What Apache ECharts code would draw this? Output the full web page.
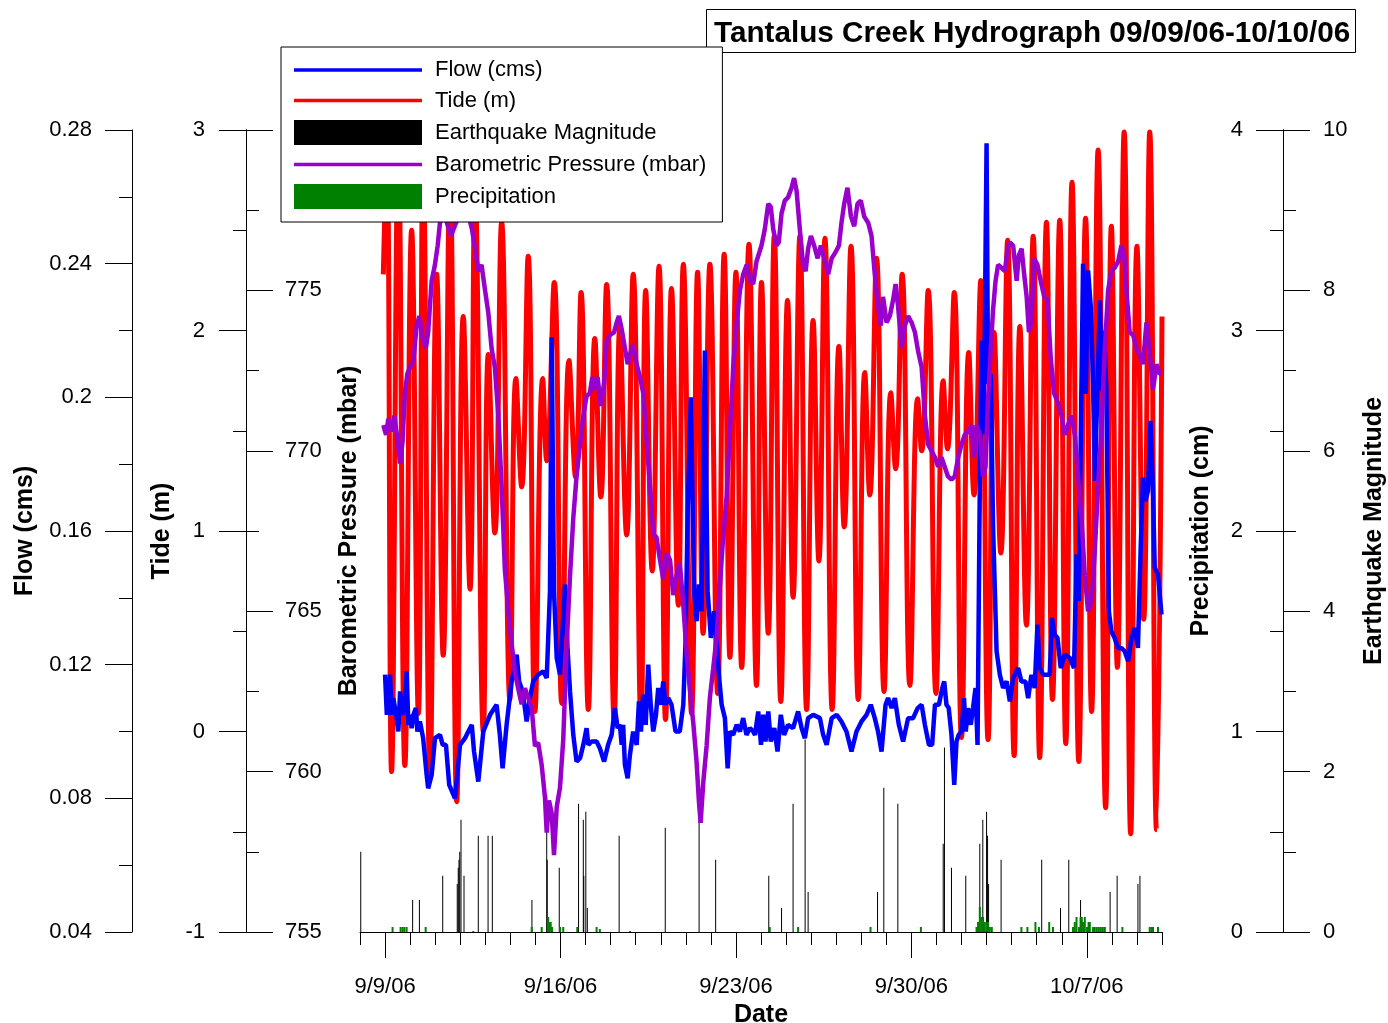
<!DOCTYPE html>
<html>
<head>
<meta charset="utf-8">
<title>Tantalus Creek Hydrograph</title>
<script src="https://cdn.jsdelivr.net/npm/echarts@6/dist/echarts.min.js"></script>
<style>
  html, body { margin: 0; padding: 0; background: #fff; }
  #chart { width: 1388px; height: 1023px; }
</style>
</head>
<body>
<div id="chart"></div>
<script>
// Time is counted in days after 2006-09-08 00:00.
const START = { y: 2006, m: 8, d: 8 };
const dateTicks = [1, 8, 15, 22, 29];

// Tide (m): successive highs and lows
const tide = [
  [0.93,2.28],[1.07,2.90],[1.26,-0.20],[1.53,2.90],[1.79,-0.17],[2.06,2.50],[2.33,0.09],[2.52,2.85],
  [2.79,-0.22],[3.06,2.28],[3.32,0.38],[3.59,2.80],[3.86,-0.35],[4.12,2.07],[4.39,0.71],[4.59,2.70],
  [4.92,0.00],[5.12,1.88],[5.38,0.99],[5.65,2.54],[5.98,0.16],[6.22,1.76],[6.45,1.22],[6.71,2.37],
  [6.98,0.10],[7.29,1.76],[7.45,1.35],[7.75,2.24],[8.05,0.14],[8.34,1.85],[8.60,1.27],[8.82,2.19],
  [9.11,0.11],[9.37,1.96],[9.61,1.17],[9.84,2.23],[10.14,0.06],[10.37,2.02],[10.64,0.98],[10.90,2.28],
  [11.21,0.04],[11.40,2.20],[11.66,0.80],[11.93,2.32],[12.19,0.06],[12.43,2.21],[12.70,0.63],[12.90,2.33],
  [13.23,0.09],[13.47,2.29],[13.69,0.49],[13.96,2.33],[14.27,0.19],[14.53,2.38],[14.76,0.37],[15.00,2.29],
  [15.23,0.32],[15.52,2.43],[15.82,0.23],[16.02,2.24],[16.29,0.49],[16.53,2.47],[16.79,0.15],[17.06,2.15],
  [17.28,0.67],[17.55,2.47],[17.82,0.11],[18.08,2.05],[18.31,0.85],[18.55,2.46],[18.84,0.11],[19.11,1.92],
  [19.32,1.02],[19.59,2.42],[19.88,0.16],[20.14,1.79],[20.34,1.18],[20.61,2.36],[20.91,0.20],[21.18,1.69],
  [21.37,1.31],[21.63,2.28],[21.94,0.23],[22.25,1.66],[22.41,1.40],[22.67,2.20],[22.98,0.19],[23.27,1.75],
  [23.44,1.41],[23.71,2.19],[24.00,-0.03],[24.29,1.89],[24.50,1.18],[24.77,2.25],[25.06,-0.04],[25.30,1.99],
  [25.57,0.89],[25.84,2.45],[26.10,-0.12],[26.33,2.02],[26.59,0.53],[26.86,2.47],[27.12,-0.13],[27.39,2.54],
  [27.63,0.16],[27.92,2.55],[28.16,-0.06],[28.41,2.74],[28.68,-0.15],[28.95,2.56],[29.19,0.10],[29.45,2.90],
  [29.75,-0.38],[29.98,2.52],[30.22,0.32],[30.49,2.99],[30.75,-0.51],[31.00,2.42],[31.27,0.56],[31.51,2.99],
  [31.78,-0.49],[32.00,2.07]
];

// Creek flow (cms)
const flow = [
  [1.00,0.117],[1.07,0.105],[1.20,0.117],[1.26,0.105],[1.33,0.110],[1.44,0.105],[1.53,0.100],[1.60,0.112],
  [1.70,0.105],[1.79,0.107],[1.86,0.118],[1.93,0.102],[1.99,0.105],[2.06,0.101],[2.13,0.105],[2.23,0.107],
  [2.29,0.100],[2.39,0.103],[2.52,0.098],[2.66,0.087],[2.72,0.083],[2.86,0.087],[2.99,0.098],[3.19,0.099],
  [3.30,0.096],[3.43,0.096],[3.56,0.084],[3.79,0.080],[3.88,0.087],[3.99,0.096],[4.19,0.098],[4.32,0.100],
  [4.46,0.102],[4.55,0.094],[4.72,0.085],[4.92,0.100],[5.19,0.105],[5.45,0.108],[5.58,0.099],[5.69,0.089],
  [5.85,0.102],[6.05,0.115],[6.25,0.123],[6.35,0.115],[6.49,0.112],[6.65,0.103],[6.78,0.110],[6.91,0.115],
  [7.11,0.117],[7.31,0.118],[7.45,0.116],[7.58,0.142],[7.65,0.218],[7.74,0.142],[7.85,0.122],[7.98,0.117],
  [8.18,0.144],[8.28,0.125],[8.38,0.112],[8.51,0.099],[8.64,0.091],[8.78,0.092],[8.91,0.096],[9.04,0.101],
  [9.11,0.096],[9.24,0.097],[9.44,0.097],[9.57,0.095],[9.74,0.091],[9.90,0.096],[10.04,0.099],[10.17,0.107],
  [10.28,0.101],[10.37,0.102],[10.44,0.096],[10.50,0.102],[10.57,0.090],[10.68,0.086],[10.77,0.093],[10.90,0.100],
  [11.04,0.096],[11.13,0.109],[11.21,0.100],[11.30,0.111],[11.40,0.102],[11.50,0.120],[11.60,0.108],[11.70,0.100],
  [11.81,0.105],[11.90,0.113],[12.01,0.108],[12.10,0.115],[12.19,0.108],[12.30,0.110],[12.43,0.108],[12.59,0.100],
  [12.76,0.100],[12.90,0.108],[12.99,0.127],[13.07,0.165],[13.20,0.200],[13.33,0.142],[13.43,0.133],[13.52,0.144],
  [13.63,0.136],[13.76,0.214],[13.87,0.142],[14.00,0.128],[14.13,0.136],[14.23,0.127],[14.32,0.117],[14.43,0.108],
  [14.56,0.104],[14.67,0.089],[14.76,0.100],[14.89,0.099],[15.03,0.102],[15.16,0.100],[15.29,0.104],[15.42,0.099],
  [15.56,0.101],[15.69,0.100],[15.76,0.099],[15.89,0.106],[16.00,0.096],[16.09,0.105],[16.18,0.097],[16.29,0.106],
  [16.39,0.097],[16.53,0.101],[16.66,0.094],[16.79,0.105],[16.92,0.099],[17.08,0.102],[17.28,0.101],[17.48,0.106],
  [17.62,0.101],[17.75,0.098],[17.88,0.104],[18.08,0.105],[18.35,0.104],[18.48,0.099],[18.62,0.096],[18.82,0.104],
  [19.02,0.105],[19.21,0.103],[19.41,0.100],[19.61,0.094],[19.81,0.100],[20.01,0.103],[20.21,0.105],[20.38,0.108],
  [20.54,0.104],[20.67,0.100],[20.81,0.094],[20.97,0.108],[21.07,0.110],[21.21,0.107],[21.34,0.110],[21.50,0.102],
  [21.67,0.097],[21.87,0.104],[22.07,0.104],[22.25,0.107],[22.41,0.108],[22.54,0.102],[22.70,0.096],[22.83,0.096],
  [22.94,0.108],[23.10,0.108],[23.23,0.113],[23.31,0.115],[23.40,0.108],[23.49,0.107],[23.60,0.099],[23.71,0.084],
  [23.80,0.097],[23.89,0.099],[24.00,0.100],[24.10,0.110],[24.17,0.100],[24.26,0.107],[24.37,0.102],[24.46,0.107],
  [24.56,0.113],[24.64,0.096],[24.73,0.173],[24.80,0.217],[24.86,0.189],[24.93,0.220],[25.00,0.276],[25.06,0.204],
  [25.17,0.207],[25.26,0.161],[25.40,0.124],[25.53,0.117],[25.66,0.113],[25.80,0.115],[25.93,0.109],[26.06,0.116],
  [26.26,0.119],[26.39,0.115],[26.55,0.115],[26.66,0.110],[26.79,0.117],[26.92,0.113],[27.03,0.132],[27.12,0.119],
  [27.26,0.117],[27.52,0.117],[27.61,0.134],[27.72,0.129],[27.83,0.128],[27.96,0.119],[28.12,0.123],[28.32,0.122],
  [28.49,0.119],[28.59,0.153],[28.68,0.139],[28.76,0.189],[28.85,0.240],[28.96,0.201],[29.05,0.238],[29.16,0.227],
  [29.25,0.204],[29.32,0.175],[29.43,0.204],[29.52,0.229],[29.61,0.202],[29.69,0.220],[29.78,0.202],[29.88,0.136],
  [29.98,0.130],[30.11,0.128],[30.24,0.125],[30.38,0.125],[30.51,0.124],[30.65,0.121],[30.78,0.128],[30.91,0.131],
  [31.04,0.125],[31.15,0.155],[31.24,0.176],[31.34,0.169],[31.44,0.172],[31.54,0.193],[31.64,0.172],[31.71,0.149],
  [31.84,0.147],[31.98,0.135]
];

// Barometric pressure (mbar)
const pressure = [
  [0.93,770.8],[1.04,770.5],[1.13,771.0],[1.26,770.6],[1.37,771.1],[1.49,770.4],[1.60,769.6],[1.70,770.3],
  [1.79,771.8],[1.89,772.4],[1.99,772.6],[2.13,772.8],[2.26,773.9],[2.37,774.2],[2.50,773.5],[2.63,773.2],
  [2.72,773.7],[2.86,775.3],[2.99,775.8],[3.10,776.4],[3.19,777.1],[3.35,777.4],[3.47,777.1],[3.63,776.7],
  [3.83,777.1],[4.07,777.5],[4.31,777.4],[4.47,776.9],[4.59,776.3],[4.72,775.6],[4.85,775.8],[4.99,775.0],
  [5.12,774.3],[5.25,773.2],[5.38,772.6],[5.52,771.1],[5.65,768.9],[5.78,766.3],[5.92,765.0],[6.05,764.0],
  [6.18,763.1],[6.31,762.6],[6.45,762.1],[6.58,762.6],[6.71,762.3],[6.85,762.0],[6.98,760.8],[7.11,760.9],
  [7.25,760.2],[7.38,759.2],[7.45,758.1],[7.54,759.1],[7.65,758.7],[7.74,757.4],[7.85,758.9],[7.98,759.5],
  [8.11,761.0],[8.25,764.0],[8.38,766.1],[8.51,767.9],[8.64,769.2],[8.78,770.2],[8.91,771.1],[9.04,771.7],
  [9.17,771.8],[9.27,772.3],[9.37,771.9],[9.48,772.3],[9.61,771.4],[9.74,772.1],[9.84,773.4],[9.97,773.6],
  [10.14,773.7],[10.24,774.0],[10.33,774.2],[10.44,773.8],[10.57,773.2],[10.68,772.7],[10.81,773.1],[10.90,773.3],
  [11.04,772.7],[11.17,772.3],[11.30,771.8],[11.44,770.3],[11.57,768.9],[11.70,767.4],[11.83,767.3],[11.97,766.6],
  [12.10,766.0],[12.23,766.8],[12.37,766.6],[12.50,765.5],[12.63,766.1],[12.76,766.5],[12.90,765.2],[13.03,763.7],
  [13.16,762.6],[13.30,761.5],[13.43,760.3],[13.52,759.1],[13.59,758.4],[13.70,759.7],[13.83,760.8],[13.96,762.3],
  [14.09,763.2],[14.23,764.2],[14.36,765.8],[14.49,767.3],[14.63,768.6],[14.76,770.6],[14.89,772.6],[15.03,774.0],
  [15.16,775.0],[15.29,775.5],[15.43,775.8],[15.56,775.3],[15.69,775.2],[15.82,775.9],[16.02,776.4],[16.15,776.9],
  [16.29,777.7],[16.39,777.6],[16.49,776.9],[16.62,776.4],[16.71,776.5],[16.82,777.4],[16.95,777.8],[17.08,777.9],
  [17.22,778.2],[17.32,778.5],[17.42,778.1],[17.55,776.9],[17.68,775.8],[17.78,775.6],[17.88,776.3],[17.99,776.7],
  [18.12,776.4],[18.26,776.0],[18.39,776.4],[18.55,775.9],[18.68,775.5],[18.82,776.0],[18.98,776.2],[19.11,776.4],
  [19.21,777.1],[19.32,777.7],[19.45,778.2],[19.59,777.3],[19.72,777.0],[19.85,777.7],[19.98,777.8],[20.12,777.3],
  [20.28,777.1],[20.41,776.7],[20.54,775.5],[20.67,774.5],[20.78,773.9],[20.87,774.8],[21.01,774.0],[21.14,774.2],
  [21.27,774.7],[21.37,775.2],[21.47,774.5],[21.61,773.2],[21.74,773.9],[21.87,774.2],[22.01,774.0],[22.14,773.7],
  [22.27,773.1],[22.41,772.6],[22.54,771.1],[22.67,770.2],[22.80,770.0],[22.94,769.8],[23.07,769.5],[23.20,769.8],
  [23.33,769.5],[23.46,769.2],[23.60,769.1],[23.73,769.2],[23.87,769.8],[24.00,770.2],[24.13,770.5],[24.26,770.6],
  [24.40,770.8],[24.50,769.8],[24.60,770.8],[24.73,770.5],[24.86,769.2],[24.96,769.5],[25.06,771.6],[25.17,773.2],
  [25.26,774.4],[25.36,775.3],[25.46,775.8],[25.60,775.7],[25.73,775.6],[25.84,776.3],[25.93,776.5],[26.06,776.4],
  [26.20,775.3],[26.29,776.1],[26.40,776.3],[26.50,775.5],[26.60,774.8],[26.69,773.7],[26.79,774.0],[26.90,776.0],
  [27.03,775.8],[27.16,775.3],[27.30,774.8],[27.43,774.7],[27.56,772.9],[27.69,771.8],[27.85,771.5],[27.99,771.1],
  [28.12,770.5],[28.25,770.8],[28.39,771.1],[28.52,770.5],[28.65,769.2],[28.79,767.9],[28.92,766.1],[29.05,765.0],
  [29.19,765.3],[29.32,766.9],[29.45,768.9],[29.59,770.8],[29.72,773.2],[29.85,775.0],[29.98,775.6],[30.11,775.7],
  [30.25,775.9],[30.38,776.4],[30.49,776.1],[30.58,775.0],[30.71,773.7],[30.85,773.6],[30.98,773.2],[31.11,773.0],
  [31.24,772.7],[31.38,774.0],[31.51,773.1],[31.64,771.9],[31.78,772.7],[31.91,772.4],[31.99,772.4]
];

// Earthquake magnitudes
const quakes = [
  [0.03,1.0],[2.10,0.4],[2.37,0.4],[3.30,0.7],[3.88,0.6],[3.92,0.8],[3.95,0.9],[3.98,1.0],[4.03,1.4],[4.15,0.7],
  [4.72,1.2],[5.11,1.2],[5.28,1.2],[6.86,0.4],[7.45,1.7],[7.47,0.9],[7.95,0.8],[8.72,1.6],[8.91,1.4],[8.93,0.7],
  [9.01,1.5],[9.07,0.3],[10.34,1.2],[12.18,1.3],[13.53,1.4],[14.19,0.9],[16.31,0.7],[16.82,0.3],[17.28,1.6],
  [17.76,2.4],[17.88,0.5],[20.65,0.5],[20.90,1.8],[21.46,1.6],[23.27,1.1],[23.32,2.3],[23.60,0.8],[24.17,0.7],
  [24.73,1.1],[24.85,1.4],[25.00,1.5],[25.04,1.2],[25.08,0.6],[25.58,0.9],[27.20,0.9],[27.95,0.3],[28.28,0.9],
  [28.75,0.4],[29.93,0.5],[30.21,0.7],[31.04,0.6],[31.12,0.7]
];

// Precipitation (cm)
const precip = [
  [1.30,0.025],[1.62,0.025],[1.70,0.025],[1.77,0.025],[1.86,0.025],[2.62,0.025],[4.52,0.005],[6.85,0.025],
  [7.25,0.025],[7.51,0.075],[7.55,0.05],[7.61,0.05],[7.66,0.025],[7.98,0.025],[8.11,0.025],[8.67,0.025],
  [9.44,0.025],[9.57,0.015],[10.77,0.005],[16.35,0.025],[17.48,0.025],[20.37,0.025],[22.38,0.025],
  [24.60,0.025],[24.66,0.05],[24.73,0.125],[24.80,0.075],[24.86,0.075],[24.93,0.05],[25.00,0.05],[25.06,0.05],
  [25.13,0.025],[25.21,0.025],[26.39,0.025],[26.63,0.025],[26.95,0.05],[27.09,0.025],[27.50,0.05],[27.65,0.025],
  [28.45,0.025],[28.52,0.05],[28.59,0.075],[28.69,0.025],[28.75,0.075],[28.80,0.075],[28.85,0.05],[28.92,0.075],
  [29.01,0.025],[29.07,0.05],[29.12,0.05],[29.25,0.025],[29.32,0.025],[29.40,0.025],[29.48,0.025],[29.56,0.025],
  [29.64,0.025],[29.72,0.025],[30.42,0.025],[31.51,0.025],[31.58,0.025],[31.64,0.025],[31.84,0.025]
];

const FONT = "'Liberation Sans', Arial, sans-serif";
const BLACK = '#000';
const LINE_ICON = 'path://M0,0H128V3.6H0Z';

function dayLabel(d) {
  const dt = new Date(START.y, START.m, START.d + d);
  return (dt.getMonth() + 1) + '/' + dt.getDate() + '/' + String(dt.getFullYear()).slice(2);
}

function yAxis(o) {
  return {
    type: 'value',
    position: o.position,
    offset: o.offset,
    min: o.min, max: o.max, interval: o.interval,
    name: o.name,
    nameLocation: 'middle',
    nameGap: o.nameGap,
    nameRotate: 90,
    nameTextStyle: { fontFamily: FONT, fontSize: 25, fontWeight: 'bold', color: BLACK },
    axisLine: { show: true, onZero: false, lineStyle: { color: BLACK, width: 1 } },
    axisTick: { show: true, length: 27, lineStyle: { color: BLACK, width: 1 } },
    minorTick: { show: true, splitNumber: 2, length: 13, lineStyle: { color: BLACK, width: 1 } },
    axisLabel: {
      show: true, margin: o.margin, fontFamily: FONT, fontSize: 22, color: BLACK,
      padding: [4, 0, 0, 0],
      formatter: o.formatter
    },
    splitLine: { show: false },
    minorSplitLine: { show: false }
  };
}

const chart = echarts.init(document.getElementById('chart'), null, { renderer: 'canvas' });

chart.setOption({
  animation: false,
  backgroundColor: '#fff',
  title: {
    text: 'Tantalus Creek Hydrograph 09/09/06-10/10/06',
    left: 706, top: 9,
    padding: [10, 5, 4, 8],
    borderColor: BLACK, borderWidth: 1, backgroundColor: '#fff',
    textStyle: { fontFamily: FONT, fontSize: 29.7, fontWeight: 'bold', color: BLACK }
  },
  legend: {
    z: 10,
    left: 281, top: 47,
    orient: 'vertical',
    itemWidth: 128, itemHeight: 25, itemGap: 8.5,
    symbolKeepAspect: true,
    padding: [12, 16, 13, 13],
    backgroundColor: '#fff', borderColor: BLACK, borderWidth: 1,
    selectedMode: false,
    textStyle: { fontFamily: FONT, fontSize: 22, color: BLACK, padding: [0, 0, 0, 8] },
    data: [
      { name: 'Flow (cms)', icon: LINE_ICON },
      { name: 'Tide (m)', icon: LINE_ICON },
      { name: 'Earthquake Magnitude', icon: 'rect' },
      { name: 'Barometric Pressure (mbar)', icon: LINE_ICON },
      { name: 'Precipitation', icon: 'rect' }
    ]
  },
  grid: { left: 360, right: 226, top: 130, bottom: 91, containLabel: false, outerBoundsMode: 'none' },
  xAxis: [
    {
      type: 'value', min: 0, max: 32, interval: 1,
      axisLine: { show: true, onZero: false, lineStyle: { color: BLACK, width: 1 } },
      axisTick: { show: true, length: 13, lineStyle: { color: BLACK, width: 1 } },
      axisLabel: { show: false },
      splitLine: { show: false }
    },
    {
      type: 'value', min: 0, max: 32, position: 'bottom',
      name: 'Date', nameLocation: 'middle', nameGap: 68,
      nameTextStyle: { fontFamily: FONT, fontSize: 25, fontWeight: 'bold', color: BLACK },
      axisLine: { show: false, onZero: false },
      axisTick: { show: true, length: 26, customValues: dateTicks, lineStyle: { color: BLACK, width: 1 } },
      axisLabel: {
        show: true, margin: 44, customValues: dateTicks,
        fontFamily: FONT, fontSize: 22, color: BLACK,
        formatter: v => dayLabel(v)
      },
      splitLine: { show: false }
    }
  ],
  yAxis: [
    yAxis({ position: 'left', offset: 228, min: 0.04, max: 0.28, interval: 0.04,
            name: 'Flow (cms)', nameGap: 94, margin: 40 }),
    yAxis({ position: 'left', offset: 114, min: -1, max: 3, interval: 1,
            name: 'Tide (m)', nameGap: 70, margin: 41 }),
    yAxis({ position: 'right', offset: -916, min: 755, max: 780, interval: 5,
            name: 'Barometric Pressure (mbar)', nameGap: 91, margin: 39,
            formatter: v => (v === 780 ? '' : String(v)) }),
    yAxis({ position: 'left', offset: -923, min: 0, max: 4, interval: 1,
            name: 'Precipitation (cm)', nameGap: 69, margin: 40 }),
    yAxis({ position: 'right', offset: 121, min: 0, max: 10, interval: 2,
            name: 'Earthquake Magnitude', nameGap: 79, margin: 40 })
  ],
  series: [
    {
      name: 'Tide (m)', type: 'line', xAxisIndex: 0, yAxisIndex: 1,
      data: tide, showSymbol: false, symbol: 'none', smooth: 0.45,
      lineStyle: { color: '#ff0000', width: 5 }, itemStyle: { color: '#ff0000' }, z: 2
    },
    {
      name: 'Flow (cms)', type: 'line', xAxisIndex: 0, yAxisIndex: 0,
      data: flow, showSymbol: false, symbol: 'none',
      lineStyle: { color: '#0000ff', width: 4.5 }, itemStyle: { color: '#0000ff' }, z: 3
    },
    {
      name: 'Barometric Pressure (mbar)', type: 'line', xAxisIndex: 0, yAxisIndex: 2,
      data: pressure, showSymbol: false, symbol: 'none',
      lineStyle: { color: '#9900cc', width: 4.5 }, itemStyle: { color: '#9900cc' }, z: 4
    },
    {
      name: 'Earthquake Magnitude', type: 'bar', xAxisIndex: 0, yAxisIndex: 4,
      data: quakes, barWidth: 1, itemStyle: { color: '#000' }, z: 1
    },
    {
      name: 'Precipitation', type: 'bar', xAxisIndex: 1, yAxisIndex: 3,
      data: precip, barWidth: 2, itemStyle: { color: '#008000' }, z: 1
    }
  ]
});
</script>
</body>
</html>
